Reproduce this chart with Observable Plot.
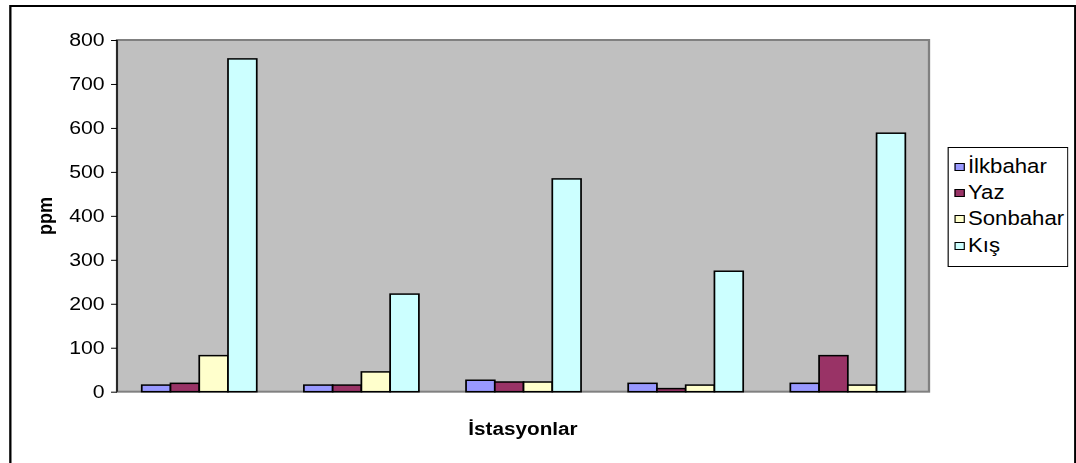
<!DOCTYPE html>
<html><head><meta charset="utf-8">
<script src="https://cdn.jsdelivr.net/npm/d3@7"></script>
<script src="https://cdn.jsdelivr.net/npm/@observablehq/plot@0.6"></script>
<style>
html,body{margin:0;padding:0;background:#fff;width:1076px;height:463px;overflow:hidden}
#stage{position:absolute;left:0;top:0;width:935.65px;height:463px;transform:scaleX(1.15);transform-origin:0 0;font-family:"Liberation Sans",Arial,sans-serif;color:#000}
#border{position:absolute;left:7.83px;top:5px;width:927.8px;height:520px;border-style:solid;border-color:#000;border-width:2px 2.3px;box-sizing:border-box}
#chart{position:absolute;left:0;top:0}
#legend{position:absolute;left:823.5px;top:147px;width:105.2px;height:120px;border:1px solid #000;box-sizing:border-box;padding-top:5.5px;background:#fff}
.item{height:26.4px;display:flex;align-items:center;font-size:19.3px;white-space:nowrap}
.sw{width:9.6px;height:8px;border:1px solid #000;box-sizing:border-box;margin-left:5.1px;margin-right:2.5px;flex:none}
#xlabel{position:absolute;left:101.74px;width:706.1px;top:418px;line-height:22px;text-align:center;font-weight:bold;font-size:18px}
#ylabel{position:absolute;left:39px;top:216px;transform:translate(-50%,-50%) rotate(-90deg);font-weight:bold;font-size:18px;line-height:22px;white-space:nowrap}
</style>
</head><body>
<div id="stage">
  <div id="border"></div>
  <div id="chart"></div>
  <div id="ylabel"></div>
  <div id="xlabel"></div>
  <div id="legend"></div>
</div>
<script>
const stations = ["1", "2", "3", "4", "5"];
const seasons = ["İlkbahar", "Yaz", "Sonbahar", "Kış"];
const colors = ["#9999FF", "#993366", "#FFFFCC", "#CCFFFF"];
const ilkbahar = [15, 15, 26, 19, 19];
const yaz = [19, 15, 22, 7, 82];
const sonbahar = [82, 45, 22, 15, 15];
const kis = [757, 222, 484, 274, 588];
const yTicks = [0, 100, 200, 300, 400, 500, 600, 700, 800];
const yTitle = "ppm";
const xTitle = "İstasyonlar";

const seriesValues = [ilkbahar, yaz, sonbahar, kis];
const data = [];
stations.forEach((st, i) => seasons.forEach((se, j) => data.push({station: st, season: se, value: seriesValues[j][i]})));

const W = 935.65, H = 463, mL = 101.74, mR = 127.8, mT = 40, mB = 71.3;

const plot = Plot.plot({
  width: W, height: H,
  marginLeft: mL, marginRight: mR, marginTop: mT, marginBottom: mB,
  style: {background: "transparent", fontFamily: '"Liberation Sans", Arial, sans-serif', fontSize: "18.5px", color: "#000", overflow: "visible"},
  facet: {data: data, x: "station"},
  fx: {domain: stations, paddingInner: 0.274, paddingOuter: 0.137, axis: null, label: null},
  x: {domain: seasons, padding: 0, axis: null, label: null},
  y: {domain: [0, 800], label: null},
  color: {domain: seasons, range: colors},
  marks: [
    Plot.barY(data, {x: "season", y: "value", fill: "season", stroke: "#000", strokeWidth: 1.5}),
    Plot.axisY({ticks: yTicks, tickSize: 5.2, tickPadding: 6, label: null, stroke: "#000"})
  ]
});

const svg = d3.select(plot);
// the y axis is anchored to the first facet; move it back to the plot's left edge
svg.selectAll('g[aria-label^="y-axis"] > g').attr("transform", null);

// plot-area background, border and value-axis line, from the plot's margins and y range
const yScale = plot.scale("y");
const yTop = Math.min(...yScale.range), yBottom = Math.max(...yScale.range);
const bg = document.createElementNS("http://www.w3.org/2000/svg", "rect");
d3.select(bg).attr("x", mL).attr("y", yTop).attr("width", W - mL - mR).attr("height", yBottom - yTop)
  .attr("fill", "#C0C0C0").attr("stroke", "#808080").attr("stroke-width", 2);
plot.insertBefore(bg, plot.firstChild);
svg.append("line").attr("x1", mL).attr("x2", mL).attr("y1", yTop).attr("y2", yBottom)
  .attr("stroke", "#000").attr("stroke-width", 1.2);

document.getElementById("chart").appendChild(plot);
document.getElementById("ylabel").textContent = yTitle;
document.getElementById("xlabel").textContent = xTitle;

const legend = d3.select("#legend");
seasons.forEach((s, i) => {
  const it = legend.append("div").attr("class", "item");
  it.append("div").attr("class", "sw").style("background", colors[i]);
  it.append("span").text(s);
});
</script>
</body></html>
